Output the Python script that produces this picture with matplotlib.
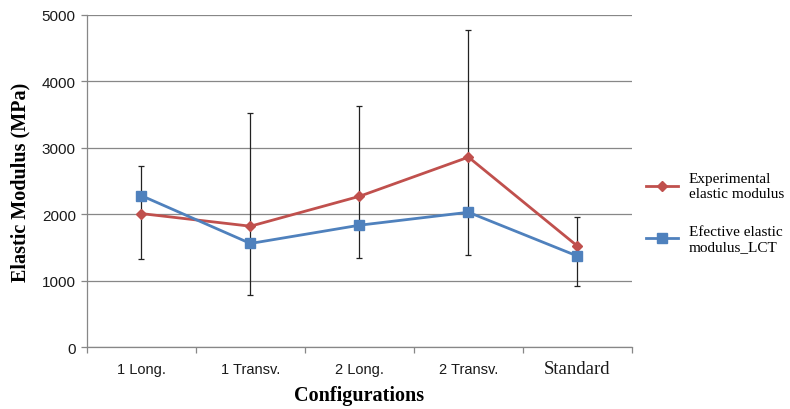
import matplotlib
matplotlib.use("Agg")
import matplotlib.pyplot as plt
import numpy as np

categories = ["1 Long.", "1 Transv.", "2 Long.", "2 Transv.", "Standard"]
experimental = [2010, 1820, 2270, 2860, 1520]
effective_lct = [2280, 1560, 1835, 2030, 1370]
err_upper = [720, 1700, 1360, 1920, 440]
err_lower = [690, 1030, 930, 1480, 600]

RED = "#C0504D"
BLUE = "#4F81BD"
GRID = "#878787"

fig = plt.figure(figsize=(7.9, 4.1), dpi=100)
ax = fig.add_axes([0.110, 0.151, 0.690, 0.810])

x = np.arange(len(categories))

ax.errorbar(x, experimental, yerr=[err_lower, err_upper], fmt="none",
            ecolor="#222222", elinewidth=0.9, capsize=2.5, capthick=0.9, zorder=2)
ax.plot(x, experimental, color=RED, lw=2.0, marker="D", markersize=5.5,
        label="Experimental\nelastic modulus", zorder=3)
ax.plot(x, effective_lct, color=BLUE, lw=2.0, marker="s", markersize=7.5,
        label="Efective elastic\nmodulus_LCT", zorder=3)

ax.set_xlim(-0.5, len(categories) - 0.5)
ax.set_ylim(0, 5000)
ax.set_yticks(np.arange(0, 5001, 1000))
ax.yaxis.grid(True, color=GRID, lw=0.9)
ax.set_axisbelow(True)

for s in ["top", "right"]:
    ax.spines[s].set_visible(False)
for s in ["left", "bottom"]:
    ax.spines[s].set_color(GRID)
    ax.spines[s].set_linewidth(0.9)

ax.set_xticks(x)
ax.set_xticks(np.arange(-0.5, len(categories), 1.0), minor=True)
ax.tick_params(axis="x", which="major", length=0, pad=11)
ax.tick_params(axis="x", which="minor", length=4, color=GRID, width=0.9)
ax.tick_params(axis="y", length=4, color=GRID, width=0.9, labelsize=11, pad=4,
               labelcolor="#1a1a1a")
labels = ax.set_xticklabels(categories)
for i, t in enumerate(labels):
    t.set_color("#1a1a1a")
    if categories[i] == "Standard":
        t.set_fontfamily("Liberation Serif")
        t.set_fontsize(13.5)
        t.set_y(0.008)
    else:
        t.set_fontfamily("Liberation Sans")
        t.set_fontsize(10.5)
for t in ax.get_yticklabels():
    t.set_fontfamily("Liberation Sans")

ax.set_xlabel("Configurations", fontfamily="Liberation Serif", fontweight="bold",
              fontsize=14.5, labelpad=6)
ax.set_ylabel("Elastic Modulus (MPa)", fontfamily="Liberation Serif", fontweight="bold",
              fontsize=14.5, labelpad=8)

leg = ax.legend(loc="center left", bbox_to_anchor=(1.0, 0.405), frameon=False,
                prop={"family": "Liberation Serif", "size": 11},
                handlelength=2.1, labelspacing=1.6, handletextpad=0.7)

fig.savefig("out.png", dpi=100)
